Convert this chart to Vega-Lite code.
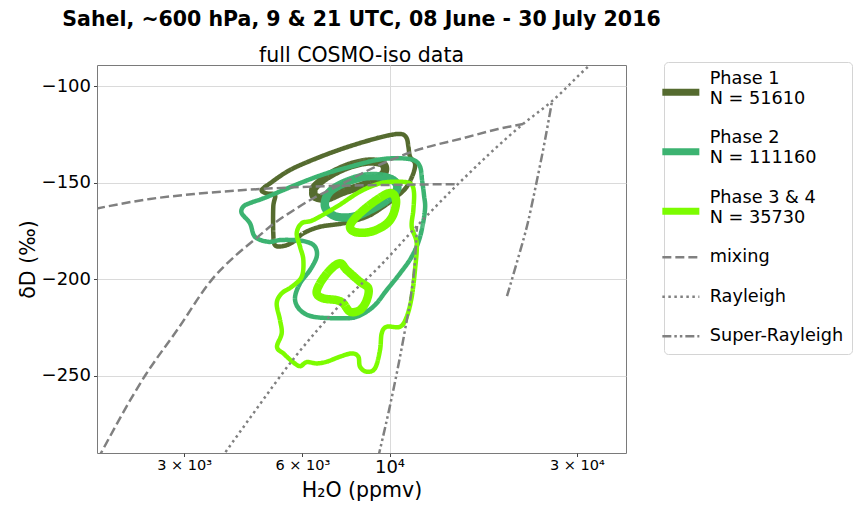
{
  "$schema": "https://vega.github.io/schema/vega-lite/v6.json",
  "width": 529,
  "height": 388,
  "autosize": {"type": "none"},
  "padding": {"left": 97, "top": 65, "right": 228, "bottom": 52},
  "title": {
    "text": "Sahel, ~600 hPa, 9 & 21 UTC, 08 June - 30 July 2016",
    "subtitle": "full COSMO-iso data",
    "anchor": "middle",
    "font": "DejaVu Sans",
    "fontSize": 20.5,
    "fontWeight": "bold",
    "color": "black",
    "subtitleFont": "DejaVu Sans",
    "subtitleFontSize": 20.5,
    "subtitleColor": "black",
    "subtitlePadding": 16,
    "offset": -5
  },
  "datasets": {
    "contours": [
      {"series": "Phase 1", "ring": "p1 outer", "level": "outer", "h2o": 4727, "dD": -153.8},
      {"series": "Phase 1", "ring": "p1 outer", "level": "outer", "h2o": 4964, "dD": -150.3},
      {"series": "Phase 1", "ring": "p1 outer", "level": "outer", "h2o": 5579, "dD": -143.4},
      {"series": "Phase 1", "ring": "p1 outer", "level": "outer", "h2o": 6526, "dD": -137.3},
      {"series": "Phase 1", "ring": "p1 outer", "level": "outer", "h2o": 7627, "dD": -132.2},
      {"series": "Phase 1", "ring": "p1 outer", "level": "outer", "h2o": 8919, "dD": -127.9},
      {"series": "Phase 1", "ring": "p1 outer", "level": "outer", "h2o": 10030, "dD": -125.3},
      {"series": "Phase 1", "ring": "p1 outer", "level": "outer", "h2o": 10740, "dD": -124.8},
      {"series": "Phase 1", "ring": "p1 outer", "level": "outer", "h2o": 11060, "dD": -127.0},
      {"series": "Phase 1", "ring": "p1 outer", "level": "outer", "h2o": 11170, "dD": -131.3},
      {"series": "Phase 1", "ring": "p1 outer", "level": "outer", "h2o": 11280, "dD": -136.5},
      {"series": "Phase 1", "ring": "p1 outer", "level": "outer", "h2o": 11610, "dD": -139.9},
      {"series": "Phase 1", "ring": "p1 outer", "level": "outer", "h2o": 11500, "dD": -145.1},
      {"series": "Phase 1", "ring": "p1 outer", "level": "outer", "h2o": 11060, "dD": -152.1},
      {"series": "Phase 1", "ring": "p1 outer", "level": "outer", "h2o": 10430, "dD": -157.2},
      {"series": "Phase 1", "ring": "p1 outer", "level": "outer", "h2o": 9643, "dD": -162.4},
      {"series": "Phase 1", "ring": "p1 outer", "level": "outer", "h2o": 8749, "dD": -167.6},
      {"series": "Phase 1", "ring": "p1 outer", "level": "outer", "h2o": 7627, "dD": -171.0},
      {"series": "Phase 1", "ring": "p1 outer", "level": "outer", "h2o": 6653, "dD": -172.8},
      {"series": "Phase 1", "ring": "p1 outer", "level": "outer", "h2o": 6034, "dD": -176.2},
      {"series": "Phase 1", "ring": "p1 outer", "level": "outer", "h2o": 5689, "dD": -180.6},
      {"series": "Phase 1", "ring": "p1 outer", "level": "outer", "h2o": 5365, "dD": -182.8},
      {"series": "Phase 1", "ring": "p1 outer", "level": "outer", "h2o": 5110, "dD": -182.3},
      {"series": "Phase 1", "ring": "p1 outer", "level": "outer", "h2o": 5059, "dD": -176.2},
      {"series": "Phase 1", "ring": "p1 outer", "level": "outer", "h2o": 5059, "dD": -162.4},
      {"series": "Phase 1", "ring": "p1 outer", "level": "outer", "h2o": 5110, "dD": -156.4},
      {"series": "Phase 1", "ring": "p1 outer", "level": "outer", "h2o": 4868, "dD": -155.5},

      {"series": "Phase 1", "ring": "p1 inner", "level": "inner", "h2o": 6461, "dD": -152.1},
      {"series": "Phase 1", "ring": "p1 inner", "level": "inner", "h2o": 6920, "dD": -146.9},
      {"series": "Phase 1", "ring": "p1 inner", "level": "inner", "h2o": 7781, "dD": -141.7},
      {"series": "Phase 1", "ring": "p1 inner", "level": "inner", "h2o": 8749, "dD": -139.1},
      {"series": "Phase 1", "ring": "p1 inner", "level": "inner", "h2o": 9553, "dD": -139.9},
      {"series": "Phase 1", "ring": "p1 inner", "level": "inner", "h2o": 9740, "dD": -143.4},
      {"series": "Phase 1", "ring": "p1 inner", "level": "inner", "h2o": 9458, "dD": -146.9},
      {"series": "Phase 1", "ring": "p1 inner", "level": "inner", "h2o": 8577, "dD": -151.2},
      {"series": "Phase 1", "ring": "p1 inner", "level": "inner", "h2o": 7627, "dD": -154.6},
      {"series": "Phase 1", "ring": "p1 inner", "level": "inner", "h2o": 6920, "dD": -158.1},
      {"series": "Phase 1", "ring": "p1 inner", "level": "inner", "h2o": 6461, "dD": -157.2},
      {"series": "Phase 1", "ring": "p1 inner", "level": "inner", "h2o": 6397, "dD": -154.6},

      {"series": "Phase 2", "ring": "p2 outer", "level": "outer", "h2o": 4204, "dD": -165.8},
      {"series": "Phase 2", "ring": "p2 outer", "level": "outer", "h2o": 4243, "dD": -162.4},
      {"series": "Phase 2", "ring": "p2 outer", "level": "outer", "h2o": 4413, "dD": -160.5},
      {"series": "Phase 2", "ring": "p2 outer", "level": "outer", "h2o": 4772, "dD": -158.1},
      {"series": "Phase 2", "ring": "p2 outer", "level": "outer", "h2o": 5365, "dD": -153.8},
      {"series": "Phase 2", "ring": "p2 outer", "level": "outer", "h2o": 6034, "dD": -149.5},
      {"series": "Phase 2", "ring": "p2 outer", "level": "outer", "h2o": 6920, "dD": -145.1},
      {"series": "Phase 2", "ring": "p2 outer", "level": "outer", "h2o": 7933, "dD": -141.7},
      {"series": "Phase 2", "ring": "p2 outer", "level": "outer", "h2o": 9277, "dD": -138.2},
      {"series": "Phase 2", "ring": "p2 outer", "level": "outer", "h2o": 10430, "dD": -137.3},
      {"series": "Phase 2", "ring": "p2 outer", "level": "outer", "h2o": 11500, "dD": -138.2},
      {"series": "Phase 2", "ring": "p2 outer", "level": "outer", "h2o": 11960, "dD": -141.7},
      {"series": "Phase 2", "ring": "p2 outer", "level": "outer", "h2o": 12100, "dD": -148.6},
      {"series": "Phase 2", "ring": "p2 outer", "level": "outer", "h2o": 12240, "dD": -156.4},
      {"series": "Phase 2", "ring": "p2 outer", "level": "outer", "h2o": 12310, "dD": -164.1},
      {"series": "Phase 2", "ring": "p2 outer", "level": "outer", "h2o": 11960, "dD": -178.0},
      {"series": "Phase 2", "ring": "p2 outer", "level": "outer", "h2o": 11390, "dD": -188.3},
      {"series": "Phase 2", "ring": "p2 outer", "level": "outer", "h2o": 10640, "dD": -196.9},
      {"series": "Phase 2", "ring": "p2 outer", "level": "outer", "h2o": 9837, "dD": -205.6},
      {"series": "Phase 2", "ring": "p2 outer", "level": "outer", "h2o": 9094, "dD": -214.2},
      {"series": "Phase 2", "ring": "p2 outer", "level": "outer", "h2o": 8251, "dD": -219.4},
      {"series": "Phase 2", "ring": "p2 outer", "level": "outer", "h2o": 7481, "dD": -220.2},
      {"series": "Phase 2", "ring": "p2 outer", "level": "outer", "h2o": 6397, "dD": -219.4},
      {"series": "Phase 2", "ring": "p2 outer", "level": "outer", "h2o": 5918, "dD": -215.9},
      {"series": "Phase 2", "ring": "p2 outer", "level": "outer", "h2o": 5745, "dD": -209.9},
      {"series": "Phase 2", "ring": "p2 outer", "level": "outer", "h2o": 5918, "dD": -202.1},
      {"series": "Phase 2", "ring": "p2 outer", "level": "outer", "h2o": 6275, "dD": -195.2},
      {"series": "Phase 2", "ring": "p2 outer", "level": "outer", "h2o": 6526, "dD": -188.3},
      {"series": "Phase 2", "ring": "p2 outer", "level": "outer", "h2o": 6461, "dD": -183.1},
      {"series": "Phase 2", "ring": "p2 outer", "level": "outer", "h2o": 6155, "dD": -180.6},
      {"series": "Phase 2", "ring": "p2 outer", "level": "outer", "h2o": 5689, "dD": -179.7},
      {"series": "Phase 2", "ring": "p2 outer", "level": "outer", "h2o": 5262, "dD": -179.7},
      {"series": "Phase 2", "ring": "p2 outer", "level": "outer", "h2o": 4914, "dD": -180.6},
      {"series": "Phase 2", "ring": "p2 outer", "level": "outer", "h2o": 4545, "dD": -178.0},
      {"series": "Phase 2", "ring": "p2 outer", "level": "outer", "h2o": 4413, "dD": -171.0},

      {"series": "Phase 2", "ring": "p2 inner", "level": "inner", "h2o": 6851, "dD": -159.8},
      {"series": "Phase 2", "ring": "p2 inner", "level": "inner", "h2o": 7055, "dD": -154.6},
      {"series": "Phase 2", "ring": "p2 inner", "level": "inner", "h2o": 7627, "dD": -150.3},
      {"series": "Phase 2", "ring": "p2 inner", "level": "inner", "h2o": 8577, "dD": -146.9},
      {"series": "Phase 2", "ring": "p2 inner", "level": "inner", "h2o": 9643, "dD": -146.9},
      {"series": "Phase 2", "ring": "p2 inner", "level": "inner", "h2o": 10330, "dD": -149.5},
      {"series": "Phase 2", "ring": "p2 inner", "level": "inner", "h2o": 10430, "dD": -153.8},
      {"series": "Phase 2", "ring": "p2 inner", "level": "inner", "h2o": 9837, "dD": -159.0},
      {"series": "Phase 2", "ring": "p2 inner", "level": "inner", "h2o": 8919, "dD": -164.1},
      {"series": "Phase 2", "ring": "p2 inner", "level": "inner", "h2o": 8089, "dD": -167.6},
      {"series": "Phase 2", "ring": "p2 inner", "level": "inner", "h2o": 7338, "dD": -167.6},
      {"series": "Phase 2", "ring": "p2 inner", "level": "inner", "h2o": 6920, "dD": -164.1},

      {"series": "Phase 3 & 4", "ring": "p3 outer", "level": "outer", "h2o": 5977, "dD": -171.0},
      {"series": "Phase 3 & 4", "ring": "p3 outer", "level": "outer", "h2o": 6397, "dD": -169.3},
      {"series": "Phase 3 & 4", "ring": "p3 outer", "level": "outer", "h2o": 7338, "dD": -162.4},
      {"series": "Phase 3 & 4", "ring": "p3 outer", "level": "outer", "h2o": 8412, "dD": -154.6},
      {"series": "Phase 3 & 4", "ring": "p3 outer", "level": "outer", "h2o": 9458, "dD": -150.3},
      {"series": "Phase 3 & 4", "ring": "p3 outer", "level": "outer", "h2o": 10430, "dD": -149.5},
      {"series": "Phase 3 & 4", "ring": "p3 outer", "level": "outer", "h2o": 11280, "dD": -150.3},
      {"series": "Phase 3 & 4", "ring": "p3 outer", "level": "outer", "h2o": 11540, "dD": -154.8},
      {"series": "Phase 3 & 4", "ring": "p3 outer", "level": "outer", "h2o": 11500, "dD": -164.1},
      {"series": "Phase 3 & 4", "ring": "p3 outer", "level": "outer", "h2o": 11390, "dD": -172.8},
      {"series": "Phase 3 & 4", "ring": "p3 outer", "level": "outer", "h2o": 11730, "dD": -181.4},
      {"series": "Phase 3 & 4", "ring": "p3 outer", "level": "outer", "h2o": 11610, "dD": -195.2},
      {"series": "Phase 3 & 4", "ring": "p3 outer", "level": "outer", "h2o": 11390, "dD": -209.1},
      {"series": "Phase 3 & 4", "ring": "p3 outer", "level": "outer", "h2o": 11060, "dD": -219.4},
      {"series": "Phase 3 & 4", "ring": "p3 outer", "level": "outer", "h2o": 10640, "dD": -224.6},
      {"series": "Phase 3 & 4", "ring": "p3 outer", "level": "outer", "h2o": 9837, "dD": -224.6},
      {"series": "Phase 3 & 4", "ring": "p3 outer", "level": "outer", "h2o": 9553, "dD": -228.0},
      {"series": "Phase 3 & 4", "ring": "p3 outer", "level": "outer", "h2o": 9458, "dD": -236.7},
      {"series": "Phase 3 & 4", "ring": "p3 outer", "level": "outer", "h2o": 9186, "dD": -246.1},
      {"series": "Phase 3 & 4", "ring": "p3 outer", "level": "outer", "h2o": 8749, "dD": -247.9},
      {"series": "Phase 3 & 4", "ring": "p3 outer", "level": "outer", "h2o": 8412, "dD": -245.3},
      {"series": "Phase 3 & 4", "ring": "p3 outer", "level": "outer", "h2o": 8329, "dD": -240.1},
      {"series": "Phase 3 & 4", "ring": "p3 outer", "level": "outer", "h2o": 8013, "dD": -238.4},
      {"series": "Phase 3 & 4", "ring": "p3 outer", "level": "outer", "h2o": 7481, "dD": -240.1},
      {"series": "Phase 3 & 4", "ring": "p3 outer", "level": "outer", "h2o": 6920, "dD": -242.7},
      {"series": "Phase 3 & 4", "ring": "p3 outer", "level": "outer", "h2o": 6526, "dD": -243.6},
      {"series": "Phase 3 & 4", "ring": "p3 outer", "level": "outer", "h2o": 6155, "dD": -242.9},
      {"series": "Phase 3 & 4", "ring": "p3 outer", "level": "outer", "h2o": 5918, "dD": -245.0},
      {"series": "Phase 3 & 4", "ring": "p3 outer", "level": "outer", "h2o": 5679, "dD": -242.9},
      {"series": "Phase 3 & 4", "ring": "p3 outer", "level": "outer", "h2o": 5387, "dD": -238.7},
      {"series": "Phase 3 & 4", "ring": "p3 outer", "level": "outer", "h2o": 5171, "dD": -235.1},
      {"series": "Phase 3 & 4", "ring": "p3 outer", "level": "outer", "h2o": 5315, "dD": -228.0},
      {"series": "Phase 3 & 4", "ring": "p3 outer", "level": "outer", "h2o": 5262, "dD": -221.1},
      {"series": "Phase 3 & 4", "ring": "p3 outer", "level": "outer", "h2o": 5162, "dD": -212.5},
      {"series": "Phase 3 & 4", "ring": "p3 outer", "level": "outer", "h2o": 5315, "dD": -207.3},
      {"series": "Phase 3 & 4", "ring": "p3 outer", "level": "outer", "h2o": 5636, "dD": -203.9},
      {"series": "Phase 3 & 4", "ring": "p3 outer", "level": "outer", "h2o": 5977, "dD": -198.7},
      {"series": "Phase 3 & 4", "ring": "p3 outer", "level": "outer", "h2o": 6034, "dD": -190.0},
      {"series": "Phase 3 & 4", "ring": "p3 outer", "level": "outer", "h2o": 5918, "dD": -183.1},
      {"series": "Phase 3 & 4", "ring": "p3 outer", "level": "outer", "h2o": 5804, "dD": -176.2},

      {"series": "Phase 3 & 4", "ring": "p3 inner a", "level": "inner", "h2o": 7933, "dD": -172.4},
      {"series": "Phase 3 & 4", "ring": "p3 inner a", "level": "inner", "h2o": 8314, "dD": -166.7},
      {"series": "Phase 3 & 4", "ring": "p3 inner a", "level": "inner", "h2o": 9186, "dD": -159.5},
      {"series": "Phase 3 & 4", "ring": "p3 inner a", "level": "inner", "h2o": 10030, "dD": -155.3},
      {"series": "Phase 3 & 4", "ring": "p3 inner a", "level": "inner", "h2o": 10390, "dD": -159.0},
      {"series": "Phase 3 & 4", "ring": "p3 inner a", "level": "inner", "h2o": 10210, "dD": -166.7},
      {"series": "Phase 3 & 4", "ring": "p3 inner a", "level": "inner", "h2o": 9740, "dD": -171.9},
      {"series": "Phase 3 & 4", "ring": "p3 inner a", "level": "inner", "h2o": 8919, "dD": -175.5},
      {"series": "Phase 3 & 4", "ring": "p3 inner a", "level": "inner", "h2o": 8169, "dD": -175.5},

      {"series": "Phase 3 & 4", "ring": "p3 inner b", "level": "inner", "h2o": 6526, "dD": -207.3},
      {"series": "Phase 3 & 4", "ring": "p3 inner b", "level": "inner", "h2o": 6653, "dD": -202.1},
      {"series": "Phase 3 & 4", "ring": "p3 inner b", "level": "inner", "h2o": 7055, "dD": -195.2},
      {"series": "Phase 3 & 4", "ring": "p3 inner b", "level": "inner", "h2o": 7481, "dD": -191.7},
      {"series": "Phase 3 & 4", "ring": "p3 inner b", "level": "inner", "h2o": 7781, "dD": -195.2},
      {"series": "Phase 3 & 4", "ring": "p3 inner b", "level": "inner", "h2o": 8412, "dD": -201.3},
      {"series": "Phase 3 & 4", "ring": "p3 inner b", "level": "inner", "h2o": 8832, "dD": -204.7},
      {"series": "Phase 3 & 4", "ring": "p3 inner b", "level": "inner", "h2o": 8749, "dD": -210.8},
      {"series": "Phase 3 & 4", "ring": "p3 inner b", "level": "inner", "h2o": 8412, "dD": -215.9},
      {"series": "Phase 3 & 4", "ring": "p3 inner b", "level": "inner", "h2o": 7933, "dD": -216.8},
      {"series": "Phase 3 & 4", "ring": "p3 inner b", "level": "inner", "h2o": 7627, "dD": -212.5},
      {"series": "Phase 3 & 4", "ring": "p3 inner b", "level": "inner", "h2o": 7338, "dD": -210.8},
      {"series": "Phase 3 & 4", "ring": "p3 inner b", "level": "inner", "h2o": 6783, "dD": -209.9}
    ],
    "refs": [
      {"series": "mixing", "ring": "mix a", "h2o": 1790, "dD": -163.4},
      {"series": "mixing", "ring": "mix a", "h2o": 2456, "dD": -158.4},
      {"series": "mixing", "ring": "mix a", "h2o": 3198, "dD": -155.8},
      {"series": "mixing", "ring": "mix a", "h2o": 4737, "dD": -153.2},
      {"series": "mixing", "ring": "mix a", "h2o": 7056, "dD": -151.7},
      {"series": "mixing", "ring": "mix a", "h2o": 9459, "dD": -151.2},
      {"series": "mixing", "ring": "mix a", "h2o": 14940, "dD": -150.7},

      {"series": "mixing", "ring": "mix b", "h2o": 1810, "dD": -293.0},
      {"series": "mixing", "ring": "mix b", "h2o": 2385, "dD": -250.0},
      {"series": "mixing", "ring": "mix b", "h2o": 2900, "dD": -225.4},
      {"series": "mixing", "ring": "mix b", "h2o": 3538, "dD": -199.9},
      {"series": "mixing", "ring": "mix b", "h2o": 4041, "dD": -188.0},
      {"series": "mixing", "ring": "mix b", "h2o": 4545, "dD": -179.3},
      {"series": "mixing", "ring": "mix b", "h2o": 5110, "dD": -170.7},
      {"series": "mixing", "ring": "mix b", "h2o": 5745, "dD": -163.8},
      {"series": "mixing", "ring": "mix b", "h2o": 6461, "dD": -157.5},
      {"series": "mixing", "ring": "mix b", "h2o": 7264, "dD": -152.4},
      {"series": "mixing", "ring": "mix b", "h2o": 9459, "dD": -140.6},
      {"series": "mixing", "ring": "mix b", "h2o": 11545, "dD": -133.6},
      {"series": "mixing", "ring": "mix b", "h2o": 15470, "dD": -126.8},
      {"series": "mixing", "ring": "mix b", "h2o": 18890, "dD": -122.2},
      {"series": "mixing", "ring": "mix b", "h2o": 21870, "dD": -119.6},

      {"series": "Rayleigh", "ring": "rayleigh", "h2o": 3746, "dD": -292.1},
      {"series": "Rayleigh", "ring": "rayleigh", "h2o": 4466, "dD": -270.4},
      {"series": "Rayleigh", "ring": "rayleigh", "h2o": 5745, "dD": -240.3},
      {"series": "Rayleigh", "ring": "rayleigh", "h2o": 7568, "dD": -212.3},
      {"series": "Rayleigh", "ring": "rayleigh", "h2o": 9459, "dD": -193.1},
      {"series": "Rayleigh", "ring": "rayleigh", "h2o": 11749, "dD": -172.4},
      {"series": "Rayleigh", "ring": "rayleigh", "h2o": 14940, "dD": -150.7},
      {"series": "Rayleigh", "ring": "rayleigh", "h2o": 21870, "dD": -119.6},
      {"series": "Rayleigh", "ring": "rayleigh", "h2o": 25930, "dD": -107.7},
      {"series": "Rayleigh", "ring": "rayleigh", "h2o": 32390, "dD": -89.0},
      {"series": "Rayleigh", "ring": "rayleigh", "h2o": 33750, "dD": -85.9},

      {"series": "Super-Rayleigh", "ring": "super a", "h2o": 9349, "dD": -292.6},
      {"series": "Super-Rayleigh", "ring": "super a", "h2o": 9970, "dD": -267.8},
      {"series": "Super-Rayleigh", "ring": "super a", "h2o": 10510, "dD": -245.5},
      {"series": "Super-Rayleigh", "ring": "super a", "h2o": 10950, "dD": -226.3},
      {"series": "Super-Rayleigh", "ring": "super a", "h2o": 11340, "dD": -208.2},
      {"series": "Super-Rayleigh", "ring": "super a", "h2o": 11610, "dD": -190.0},
      {"series": "Super-Rayleigh", "ring": "super a", "h2o": 11749, "dD": -172.4},

      {"series": "Super-Rayleigh", "ring": "super b", "h2o": 19910, "dD": -208.7},
      {"series": "Super-Rayleigh", "ring": "super b", "h2o": 21110, "dD": -191.1},
      {"series": "Super-Rayleigh", "ring": "super b", "h2o": 22520, "dD": -170.3},
      {"series": "Super-Rayleigh", "ring": "super b", "h2o": 23740, "dD": -148.6},
      {"series": "Super-Rayleigh", "ring": "super b", "h2o": 24880, "dD": -127.9},
      {"series": "Super-Rayleigh", "ring": "super b", "h2o": 25930, "dD": -107.7}
    ]
  },
  "encoding": {
    "x": {
      "field": "h2o",
      "type": "quantitative",
      "scale": {"type": "log", "domain": [1800, 40000], "nice": false},
      "axis": {
        "title": "H₂O (ppmv)",
        "values": [3000, 6000, 10000, 30000],
        "labelExpr": "datum.value == 3000 ? '3 × 10³' : datum.value == 6000 ? '6 × 10³' : datum.value == 10000 ? '10⁴' : '3 × 10⁴'",
        "labelFontSize": {"condition": {"test": "datum.value == 10000", "value": 18}, "value": 14.5},
        "gridOpacity": {"condition": {"test": "datum.value == 10000", "value": 1}, "value": 0},
        "labelPadding": 2,
        "titlePadding": 4,
        "labelFlush": false
      }
    },
    "y": {
      "field": "dD",
      "type": "quantitative",
      "scale": {"domain": [-290, -89], "nice": false, "zero": false},
      "axis": {
        "title": "δD (‰)",
        "values": [-100, -150, -200, -250],
        "labelFontSize": 18,
        "labelPadding": 3,
        "titlePadding": 3
      }
    },
    "stroke": {
      "field": "series",
      "type": "nominal",
      "scale": {
        "domain": ["Phase 1", "Phase 2", "Phase 3 & 4", "mixing", "Rayleigh", "Super-Rayleigh"],
        "range": ["#556b2f", "#3cb371", "#7cfc00", "#808080", "#808080", "#808080"]
      },
      "legend": {
        "title": null,
        "orient": "none",
        "legendX": 567,
        "legendY": -3,
        "labelExpr": "datum.label == 'Phase 1' ? ['Phase 1', 'N = 51610'] : datum.label == 'Phase 2' ? ['Phase 2', 'N = 111160'] : datum.label == 'Phase 3 & 4' ? ['Phase 3 & 4', 'N = 35730'] : datum.label",
        "encode": {
          "symbols": {
            "update": {
              "strokeWidth": {"signal": "indexof(['Phase 1', 'Phase 2', 'Phase 3 & 4'], datum.value) >= 0 ? 7 : 2.5"},
              "shape": {"signal": "indexof(['Phase 1', 'Phase 2', 'Phase 3 & 4'], datum.value) >= 0 ? 'M-1,0.72H1' : 'stroke'"}
            }
          }
        }
      }
    },
    "strokeDash": {
      "field": "series",
      "type": "nominal",
      "scale": {
        "domain": ["Phase 1", "Phase 2", "Phase 3 & 4", "mixing", "Rayleigh", "Super-Rayleigh"],
        "range": [[1, 0], [1, 0], [1, 0], [9, 4], [2.5, 3.5], [9, 3, 2.5, 3, 2.5, 3]]
      },
      "legend": {
        "title": null,
        "orient": "none",
        "legendX": 567,
        "legendY": -3,
        "labelExpr": "datum.label == 'Phase 1' ? ['Phase 1', 'N = 51610'] : datum.label == 'Phase 2' ? ['Phase 2', 'N = 111160'] : datum.label == 'Phase 3 & 4' ? ['Phase 3 & 4', 'N = 35730'] : datum.label",
        "encode": {
          "symbols": {
            "update": {
              "strokeWidth": {"signal": "indexof(['Phase 1', 'Phase 2', 'Phase 3 & 4'], datum.value) >= 0 ? 7 : 2.5"},
              "shape": {"signal": "indexof(['Phase 1', 'Phase 2', 'Phase 3 & 4'], datum.value) >= 0 ? 'M-1,0.72H1' : 'stroke'"}
            }
          }
        }
      }
    },
    "order": {"value": null}
  },
  "layer": [
    {
      "data": {"name": "contours"},
      "mark": {"type": "line", "interpolate": "cardinal-closed", "clip": true},
      "encoding": {
        "detail": {"field": "ring", "type": "nominal"},
        "strokeWidth": {
          "field": "level",
          "type": "nominal",
          "scale": {"domain": ["outer", "inner"], "range": [4.5, 8.5]},
          "legend": null
        }
      }
    },
    {
      "data": {"name": "refs"},
      "mark": {"type": "line", "interpolate": "monotone", "strokeWidth": 2.5, "clip": true},
      "encoding": {
        "detail": {"field": "ring", "type": "nominal"}
      }
    }
  ],
  "config": {
    "font": "DejaVu Sans",
    "view": {"stroke": "#7a7a7a", "strokeWidth": 1},
    "axis": {
      "domain": false,
      "grid": true,
      "gridColor": "#dadada",
      "gridWidth": 1,
      "tickColor": "#444",
      "tickSize": 3.5,
      "labelColor": "black",
      "titleColor": "black",
      "labelFont": "DejaVu Sans",
      "titleFont": "DejaVu Sans",
      "titleFontSize": 20.5,
      "titleFontWeight": "normal"
    },
    "legend": {
      "labelFont": "DejaVu Sans",
      "labelFontSize": 17.7,
      "labelLineHeight": 21.5,
      "labelColor": "black",
      "labelOffset": 20,
      "labelLimit": 300,
      "symbolType": "stroke",
      "symbolSize": 1370,
      "symbolStrokeWidth": 2.5,
      "strokeColor": "#d4d4d4",
      "fillColor": "white",
      "cornerRadius": 4,
      "padding": 8,
      "rowPadding": 20.5
    }
  }
}
